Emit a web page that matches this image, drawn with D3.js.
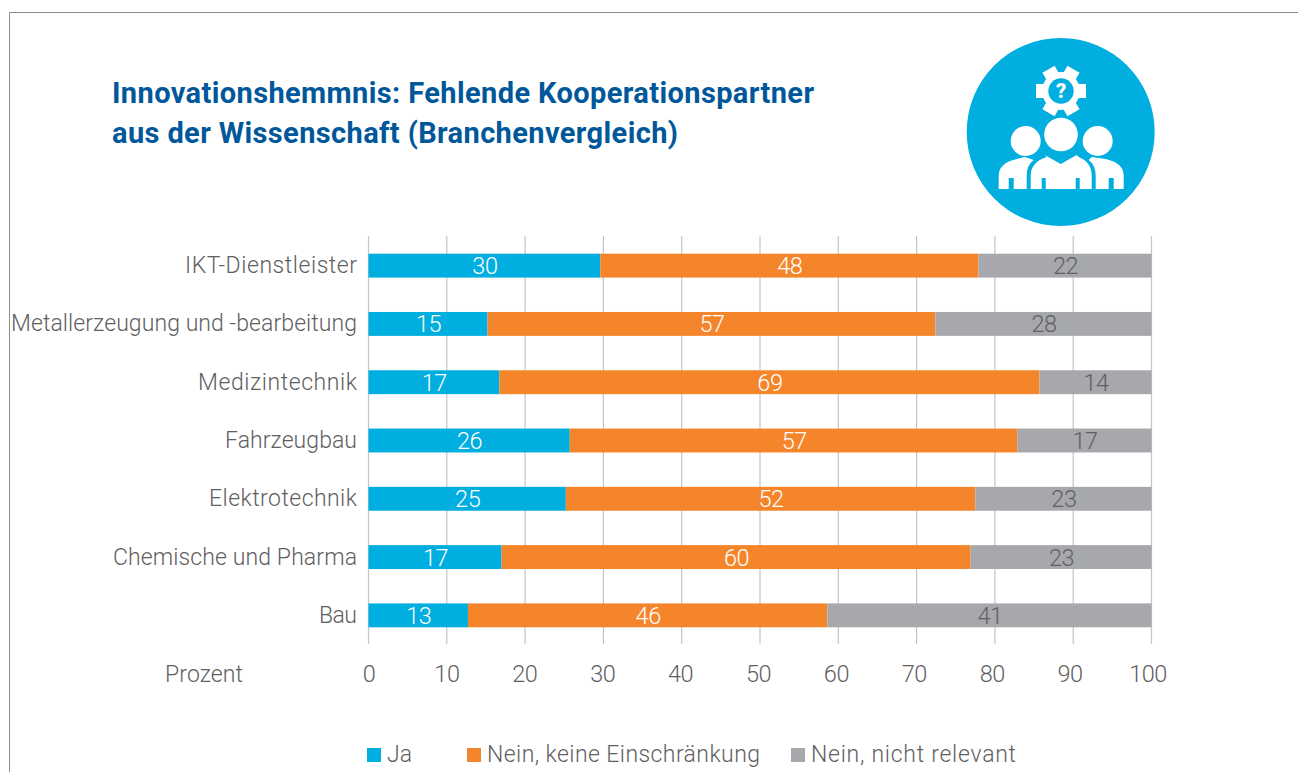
<!DOCTYPE html>
<html><head><meta charset="utf-8">
<script src="https://cdnjs.cloudflare.com/ajax/libs/d3/7.8.5/d3.min.js"></script>
<style>
html,body{margin:0;padding:0;background:#fff;overflow:hidden}
svg{display:block}
text{font-family:Roboto,"Noto Sans",sans-serif}
</style></head><body><div id="chart"></div>
<script>
const titleLines = ["Innovationshemmnis: Fehlende Kooperationspartner","aus der Wissenschaft (Branchenvergleich)"];
const categories = ["IKT-Dienstleister","Metallerzeugung und -bearbeitung","Medizintechnik","Fahrzeugbau","Elektrotechnik","Chemische und Pharma","Bau"];
const seriesNames = ["Ja","Nein, keine Einschränkung","Nein, nicht relevant"];
const ja = [29.6,15.2,16.7,25.7,25.2,17.0,12.7];
const neinKeine = [48.3,57.2,69.0,57.2,52.3,59.9,45.9];
const neinNicht = [22.1,27.6,14.3,17.1,22.5,23.1,41.4];
const tickValues = [0,10,20,30,40,50,60,70,80,90,100];
const axisTitle = "Prozent";
const colors = ["#00AEDF","#F5852B","#A7A8AC"];
const labelColors = ["#ffffff","#ffffff","#5f6062"];
// text run widths as measured on the reference (its typeface is not installed)
const titleWidths = [702,566];
const categoryWidths = [172,346,159,132,148,244,38];
const legendWidths = [null,273,205];

const W=1298,H=772;
const svg=d3.select("#chart").append("svg").attr("width",W).attr("height",H);
svg.append("path").attr("d","M9.5,772V12.5H1298").attr("fill","none").attr("stroke","#8b8c8e").attr("stroke-width",1);

const title=svg.append("g");
titleLines.forEach((t,i)=>title.append("text").attr("x",112).attr("y",103+i*40).text(t)
  .attr("font-size",29).attr("font-weight",700).attr("fill","#00589B")
  .attr("textLength",titleWidths[i]).attr("lengthAdjust","spacing"));

const x=d3.scaleLinear().domain([0,100]).range([368.5,1151.5]);
const xLabels=d3.scaleLinear().domain([0,100]).range([368.5,1147.5]);
const y=d3.scaleBand().domain(categories).range([236.5,644.5]).paddingInner(0.59).paddingOuter(0.295);

const grid=svg.append("g");
grid.selectAll("line").data(tickValues).join("line")
  .attr("x1",d=>x(d)).attr("x2",d=>x(d)).attr("y1",236).attr("y2",644)
  .attr("stroke","#c4c5c7").attr("stroke-width",1.2);

const stack=d3.stack().keys([0,1,2]).value((d,k)=>d[k]);
const rows=categories.map((c,i)=>{const r=[ja[i],neinKeine[i],neinNicht[i]];r.cat=c;return r;});
const layers=stack(rows);
layers.forEach((layer,k)=>{
  const g=svg.append("g");
  g.selectAll("rect").data(layer).join("rect")
    .attr("x",d=>x(d[0])).attr("width",d=>x(d[1])-x(d[0]))
    .attr("y",d=>y(d.data.cat)).attr("height",y.bandwidth()).attr("fill",colors[k]);
  g.selectAll("text").data(layer).join("text")
    .attr("x",d=>(x(d[0])+x(d[1]))/2+0.5).attr("y",d=>y(d.data.cat)+y.bandwidth()/2+8.5)
    .attr("text-anchor","middle").attr("font-size",23.5).attr("font-weight",300).attr("fill",labelColors[k])
    .attr("letter-spacing",-0.5)
    .text(d=>Math.round(d[1]-d[0]));
});

const yAxis=svg.append("g").attr("transform","translate(357,0)")
  .call(d3.axisLeft(y).tickSize(0).tickPadding(0));
yAxis.select(".domain").remove();
yAxis.selectAll("text").attr("font-size",23).attr("font-weight",300).attr("fill","#5f6062")
  .attr("dy",7.5).style("font-family","Roboto")
  .attr("textLength",(d,i)=>categoryWidths[i]).attr("lengthAdjust","spacing");

const xAxis=svg.append("g").attr("transform","translate(0,682)")
  .call(d3.axisBottom(xLabels).tickValues(tickValues).tickSize(0).tickPadding(0));
xAxis.select(".domain").remove();
xAxis.selectAll("text").attr("font-size",23.5).attr("font-weight",300).attr("fill","#5f6062")
  .attr("dy",0).attr("letter-spacing",-0.5).style("font-family","Roboto");
svg.append("text").attr("x",165).attr("y",682).text(axisTitle)
  .attr("font-size",23).attr("font-weight",300).attr("fill","#5f6062")
  .attr("textLength",78).attr("lengthAdjust","spacing");

const legendX=[367,467,791];
seriesNames.forEach((n,i)=>{
  const g=svg.append("g").attr("transform",`translate(${legendX[i]},748)`);
  g.append("rect").attr("width",14).attr("height",14).attr("fill",colors[i]);
  const t=g.append("text").attr("x",20).attr("y",14).text(n).attr("font-size",23).attr("font-weight",300)
    .attr("fill","#5f6062");
  if(legendWidths[i]) t.attr("textLength",legendWidths[i]).attr("lengthAdjust","spacing");
});

// icon
const icon=svg.append("g").attr("transform","translate(1060.7,132)");
icon.append("circle").attr("r",94).attr("fill","#00AEDF");
const gear=icon.append("g").attr("transform","translate(0.3,-41)");
d3.range(6).forEach(i=>gear.append("rect").attr("x",-7).attr("y",-25).attr("width",14).attr("height",12)
  .attr("fill","#fff").attr("transform",`rotate(${30+i*60})`));
gear.append("circle").attr("r",19).attr("fill","#fff");
gear.append("circle").attr("r",12.7).attr("fill","#00AEDF");
gear.append("text").attr("y",7).attr("text-anchor","middle").attr("font-size",20).attr("font-weight",900).attr("fill","#fff").text("?");
const person=(cx,cy,r)=>icon.append("circle").attr("cx",cx).attr("cy",cy).attr("r",r).attr("fill","#fff");
person(0.3,2.5,16.8); person(-35,9,15); person(37,9,15);
const body=icon.append("g").attr("fill","#fff");
body.append("path").attr("d","M-30,57V44Q-30,30 -14,25L-16,23L0,32L16,23L18,25Q31,30 31,44V57H19V46H15V57H-15V46H-19V57Z");
body.append("path").attr("d","M-62,57V44Q-62,31 -44,27L-36,25L-27,28Q-34,33 -34,44V57H-47V46H-52V57Z");
body.append("path").attr("d","M63,57V44Q63,31 45,27L31,25L28,28Q35,33 35,44V57H48V46H53V57Z");
</script></body></html>
